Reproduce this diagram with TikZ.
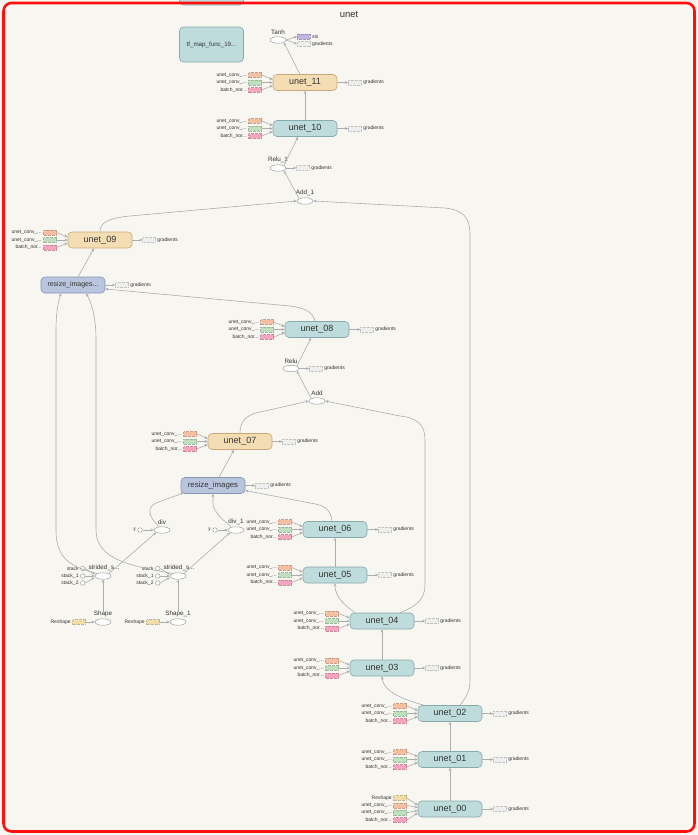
\documentclass[tikz,border=0pt]{standalone}
\usepackage{fontspec}
\setmainfont{Liberation Sans}
\usetikzlibrary{shapes.geometric,arrows.meta,calc}
\definecolor{bg}{HTML}{F7F6F1}
\definecolor{txt}{HTML}{333333}
\definecolor{tealF}{HTML}{BEDCDB}
\definecolor{tealD}{HTML}{86A9A9}
\definecolor{tanF}{HTML}{F4DDB2}
\definecolor{tanD}{HTML}{C8A878}
\definecolor{blF}{HTML}{B9C4DD}
\definecolor{blD}{HTML}{8693B3}
\definecolor{opD}{HTML}{A0A0A0}
\definecolor{edgeC}{HTML}{ADADAD}
\definecolor{orF}{HTML}{F5BFA2}
\definecolor{grF}{HTML}{BFDFBF}
\definecolor{pkF}{HTML}{F5A5C0}
\definecolor{rsF}{HTML}{F2DCA8}
\definecolor{puF}{HTML}{C2B4E2}
\definecolor{gyF}{HTML}{EEEEEE}
\definecolor{bord}{HTML}{FF1010}
\newcommand\gradbox[3]{%
  \node[ibox=gyF, anchor=west] (#2) at ($(#1.east)+(#3,0)$) {};
  \node[sml, anchor=west] at ($(#2.east)+(1.5,0)$) {gradients};
  \draw[edge] (#1.east) -- (#2.west);}
\newcommand\threein[2]{%
  \node[ibox=orF, anchor=east] (#2a) at ($(#1.west)+(-11,-7.5)$) {};
  \node[ibox=grF, anchor=east] (#2b) at ($(#1.west)+(-11,0)$) {};
  \node[ibox=pkF, anchor=east] (#2c) at ($(#1.west)+(-11,7.5)$) {};
  \node[sml, anchor=east] at ($(#2a.west)+(-1.5,0)$) {unet\_conv\_...};
  \node[sml, anchor=east] at ($(#2b.west)+(-1.5,0)$) {unet\_conv\_...};
  \node[sml, anchor=east] at ($(#2c.west)+(-1.5,0)$) {batch\_nor...};
  \draw[edge] (#2a.east) -- ($(#1.west)+(0,-3)$);
  \draw[edge] (#2b.east) -- (#1.west);
  \draw[edge] (#2c.east) -- ($(#1.west)+(0,3)$);}
\newcommand\stackin[2]{%
  \node[cst] (#2a) at ($(#1.west)+(-12,-7.5)$) {};
  \node[cst] (#2b) at ($(#1.west)+(-12,0)$) {};
  \node[cst] (#2c) at ($(#1.west)+(-12,7)$) {};
  \node[sml, anchor=east] at ($(#2a.west)+(-1.5,0)$) {stack};
  \node[sml, anchor=east] at ($(#2b.west)+(-1.5,0)$) {stack\_1};
  \node[sml, anchor=east] at ($(#2c.west)+(-1.5,0)$) {stack\_2};
  \draw[edge] (#2a.east) -- ($(#1.west)+(0,-1.5)$);
  \draw[edge] (#2b.east) -- (#1.west);
  \draw[edge] (#2c.east) -- ($(#1.west)+(0,1.5)$);}
\begin{document}
\begin{tikzpicture}[x=1pt,y=-1pt,
  base/.style={rectangle, rounded corners=4pt, minimum width=64pt, minimum height=16pt, inner sep=0pt, line width=0.6pt, text=txt, font=\fontsize{9}{10}\selectfont},
  tl/.style={base, draw=tealD, fill=tealF},
  tn/.style={base, draw=tanD, fill=tanF},
  bl/.style={base, draw=blD, fill=blF},
  op/.style={ellipse, draw=opD, fill=white, minimum width=16pt, minimum height=6.5pt, inner sep=0pt, line width=0.5pt},
  cst/.style={circle, draw=opD, fill=white, minimum size=4.5pt, inner sep=0pt, line width=0.5pt},
  ibox/.style={rectangle, minimum width=13pt, minimum height=4.8pt, inner sep=0pt, fill=#1, draw=#1!82!black, densely dotted, line width=0.35pt},
  sml/.style={font=\fontsize{5}{6}\selectfont, text=txt, inner sep=0pt},
  opl/.style={font=\fontsize{6.3}{7}\selectfont, text=txt, inner sep=0pt},
  edge/.style={draw=edgeC, line width=0.6pt, -{Stealth[length=3.2pt,width=2.8pt]}},
]
\useasboundingbox (0,0) rectangle (698,835);
\fill[bg] (0,0) rectangle (698,835);

% top partial node and map func
\node[tl, minimum height=20pt] (topn) at (211.5,-5) {};
\node[tl, minimum height=35pt, font=\fontsize{6.2}{7}\selectfont] (tfm) at (211.5,44.5) {tf\_map\_func\_19...};
\node[font=\fontsize{9.5}{11}\selectfont, text=txt] (title) at (349,14) {unet};

% Tanh
\node[op] (tanh) at (278,40) {};
\node[opl, anchor=south] (tanhl) at ($(tanh.north)+(0,-1.5)$) {Tanh};
\node[ibox=puF, anchor=west] (sts) at (297,36.5) {};
\node[sml, anchor=west] at ($(sts.east)+(1.5,0)$) {sts};
\node[ibox=gyF, anchor=west] (tg) at (297,44) {};
\node[sml, anchor=west] at ($(tg.east)+(1.5,0)$) {gradients};
\draw[edge] (tanh.east) -- (sts.west);
\draw[edge] (tanh.east) -- (tg.west);

% unet_11, unet_10
\node[tn] (u11) at (305,82.5) {unet\_11};
\threein{u11}{ia}
\gradbox{u11}{ga}{11}
\node[tl] (u10) at (305,128.5) {unet\_10};
\threein{u10}{ib}
\gradbox{u10}{gb}{11}
\draw[edge] ($(u11.north)+(-5,0)$) -- (tanh.south east);
\draw[edge] (u10.north) -- (u11.south);

% Relu_1, Add_1
\node[op] (relu1) at (278,168) {};
\node[opl, anchor=south] at ($(relu1.north)+(0,-1.5)$) {Relu\_1};
\gradbox{relu1}{gr1}{10}
\node[op] (add1) at (305,201) {};
\node[opl, anchor=south] at ($(add1.north)+(0,-1.5)$) {Add\_1};
\draw[edge] (relu1.north east) -- ($(u10.south)+(-7,0)$);
\draw[edge] (add1.north west) -- (relu1.south east);

% unet_09, resize_images...
\node[tn] (u09) at (100,240) {unet\_09};
\threein{u09}{ic}
\gradbox{u09}{gc}{10}
\node[bl, font=\fontsize{7}{8}\selectfont] (ri1) at (73,285) {resize\_images...};
\gradbox{ri1}{gd}{10}
\draw[edge] ($(ri1.north)+(5,0)$) -- ($(u09.south)+(-6,0)$);
\draw[edge] (u09.north) .. controls (100,223) and (108,218) .. (130,216) -- (add1.west);

% unet_08, Relu, Add
\node[tl] (u08) at (317,329.5) {unet\_08};
\threein{u08}{id}
\gradbox{u08}{ge}{11}
\node[op] (relu) at (291,368.5) {};
\node[opl, anchor=south] at ($(relu.north)+(0,-1.5)$) {Relu};
\gradbox{relu}{gr0}{10}
\node[op] (add) at (317,401) {};
\node[opl, anchor=south] at ($(add.north)+(0,-1.5)$) {Add};
\draw[edge] (relu.north east) -- ($(u08.south)+(-6,0)$);
\draw[edge] (add.north west) -- (relu.south east);
\draw[edge] ($(u08.north)+(-2,0)$) .. controls (313,312) and (305,308) .. (290,306) -- ($(ri1.east)+(0,4)$);

% unet_07, resize_images
\node[tn] (u07) at (240,441.5) {unet\_07};
\threein{u07}{ie}
\gradbox{u07}{gf}{10}
\node[bl, font=\fontsize{7.8}{9}\selectfont] (ri2) at (213,485.5) {resize\_images};
\gradbox{ri2}{gg}{10}
\draw[edge] ($(ri2.north)+(6,0)$) -- ($(u07.south)+(-6,0)$);
\draw[edge] (u07.north) .. controls (240,421) and (246,414) .. (265,411) -- (add.west);

% div, div_1
\node[op] (div) at (162,530) {};
\node[opl, anchor=south] at ($(div.north)+(0,-1.5)$) {div};
\node[cst] (yd) at (140,530) {};
\node[sml, anchor=east] at ($(yd.west)+(-1.5,0)$) {y};
\draw[edge] (yd.east) -- (div.west);
\node[op] (div1) at (236,530) {};
\node[opl, anchor=south] at ($(div1.north)+(0,-1.5)$) {div\_1};
\node[cst] (yd1) at (215,530) {};
\node[sml, anchor=east] at ($(yd1.west)+(-1.5,0)$) {y};
\draw[edge] (yd1.east) -- (div1.west);
\draw[edge] ($(div.north)+(-3,0)$) .. controls (149,517) and (146,508) .. (156,503) -- ($(ri2.south west)+(3,-1)$);
\draw[edge] ($(div1.north)+(-5,0)$) .. controls (220,518) and (213,510) .. (213,503) -- (ri2.south);

% strided slices, shapes
\node[op] (ss1) at (103,576) {};
\node[opl, anchor=south] at ($(ss1.north)+(1,-1.5)$) {strided\_s...};
\stackin{ss1}{sa}
\node[op] (ss2) at (178,576) {};
\node[opl, anchor=south] at ($(ss2.north)+(1,-1.5)$) {strided\_s...};
\stackin{ss2}{sb}
\draw[edge] (ss1.north east) -- (div.south west);
\draw[edge] (ss2.north east) -- (div1.south west);
\draw[edge] (ss1.north west) .. controls (72,567) and (56,560) .. (56,530) -- (56,330) .. controls (56,310) and (59,300) .. ($(ri1.south)+(-12,0)$);
\draw[edge] (ss2.north west) .. controls (132,566) and (96,560) .. (96,530) -- (96,340) .. controls (96,315) and (91,302) .. ($(ri1.south)+(13,0)$);

\node[op] (shp) at (103,622) {};
\node[opl, anchor=south] (shpl) at ($(shp.north)+(0,-1.5)$) {Shape};
\node[ibox=rsF] (rs1) at (79,622) {};
\node[sml, anchor=east] at ($(rs1.west)+(-1.5,0)$) {Reshape};
\draw[edge] (rs1.east) -- (shp.west);
\draw[edge] (shpl.north) -- (ss1.south);
\node[op] (shp1) at (178,622) {};
\node[opl, anchor=south] (shp1l) at ($(shp1.north)+(0,-1.5)$) {Shape\_1};
\node[ibox=rsF] (rs2) at (153,622) {};
\node[sml, anchor=east] at ($(rs2.west)+(-1.5,0)$) {Reshape};
\draw[edge] (rs2.east) -- (shp1.west);
\draw[edge] (shp1l.north) -- (ss2.south);

% unet_06, unet_05
\node[tl] (u06) at (335,529.5) {unet\_06};
\threein{u06}{if}
\gradbox{u06}{gh}{11}
\node[tl] (u05) at (335,575) {unet\_05};
\threein{u05}{ig}
\gradbox{u05}{gi}{11}
\draw[edge] (u05.north) -- (u06.south);
\draw[edge] ($(u06.north)+(-3,0)$) .. controls (331,510) and (325,505) .. (310,503) -- ($(ri2.east)+(0,5)$);

% unet_04, unet_03
\node[tl] (u04) at (382,621) {unet\_04};
\threein{u04}{ih}
\gradbox{u04}{gj}{11}
\node[tl] (u03) at (382,668) {unet\_03};
\threein{u03}{ii}
\gradbox{u03}{gk}{11}
\draw[edge] (u03.north) -- (u04.south);
\draw[edge] ($(u04.north)+(-27,0)$) .. controls (346,606) and (335,598) .. (u05.south);
\draw[edge] ($(u04.north)+(18,0)$) .. controls (415,607) and (425,600) .. (425,585) -- (425,440) .. controls (425,425) and (418,418) .. (400,416) -- (add.east);

% unet_02, unet_01, unet_00
\node[tl] (u02) at (450,713.5) {unet\_02};
\threein{u02}{ij}
\gradbox{u02}{gl}{11}
\node[tl] (u01) at (450,759.5) {unet\_01};
\threein{u01}{ik}
\gradbox{u01}{gm}{11}
\node[tl] (u00) at (450,809) {unet\_00};
\gradbox{u00}{gn}{11}
\node[ibox=rsF, anchor=east] (i0r) at ($(u00.west)+(-11,-11)$) {};
\node[ibox=orF, anchor=east] (i0a) at ($(u00.west)+(-11,-3.7)$) {};
\node[ibox=grF, anchor=east] (i0b) at ($(u00.west)+(-11,3.7)$) {};
\node[ibox=pkF, anchor=east] (i0c) at ($(u00.west)+(-11,11)$) {};
\node[sml, anchor=east] at ($(i0r.west)+(-1.5,0)$) {Reshape};
\node[sml, anchor=east] at ($(i0a.west)+(-1.5,0)$) {unet\_conv\_...};
\node[sml, anchor=east] at ($(i0b.west)+(-1.5,0)$) {unet\_conv\_...};
\node[sml, anchor=east] at ($(i0c.west)+(-1.5,0)$) {batch\_nor...};
\draw[edge] (i0r.east) -- ($(u00.west)+(0,-4)$);
\draw[edge] (i0a.east) -- ($(u00.west)+(0,-1.5)$);
\draw[edge] (i0b.east) -- ($(u00.west)+(0,1.5)$);
\draw[edge] (i0c.east) -- ($(u00.west)+(0,4)$);
\draw[edge] (u00.north) -- (u01.south);
\draw[edge] (u01.north) -- (u02.south);
\draw[edge] ($(u02.north west)+(6,0)$) .. controls (405,700) and (383,692) .. (u03.south);
\draw[edge] ($(u02.north)+(10,0)$) .. controls (465,698) and (470,693) .. (470,680) -- (470,235) .. controls (470,216) and (462,210) .. (445,208) -- (add1.east);

% red frame
\draw[bord, line width=2.6pt, rounded corners=8pt] (3.5,3) rectangle (694.5,831.5);
\end{tikzpicture}
\end{document}
